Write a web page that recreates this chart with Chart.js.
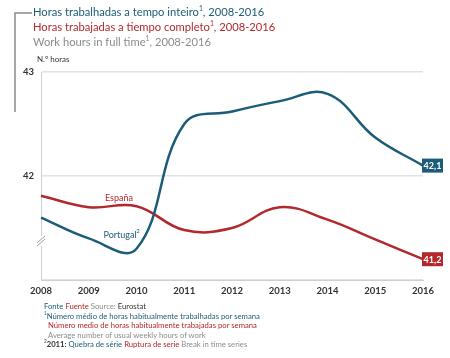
<!DOCTYPE html>
<html><head><meta charset="utf-8">
<script src="https://cdn.jsdelivr.net/npm/chart.js@4"></script>
<style>
html,body{margin:0;padding:0;background:#fff;}
#wrap{position:relative;width:450px;height:358px;font-family:Lato,"Open Sans",sans-serif;}
canvas{position:absolute;left:0;top:0;}
.t{position:absolute;white-space:nowrap;line-height:1;}
.b{color:#1b5c78}.r{color:#b3282d}.g{color:#8c8c8c}.k{color:#333}
sup{font-size:60%;vertical-align:super;line-height:0}
</style></head><body>
<div id="wrap">
<canvas id="c" width="450" height="358"></canvas>
<div class="t b" style="left:33px;top:6px;font-size:11.2px;">Horas trabalhadas a tempo inteiro<sup>1</sup>, 2008-2016</div>
<div class="t r" style="left:33px;top:21px;font-size:11.2px;">Horas trabajadas a tiempo completo<sup>1</sup>, 2008-2016</div>
<div class="t g" style="left:33px;top:36px;font-size:11.2px;">Work hours in full time<sup>1</sup>, 2008-2016</div>
<div class="t k" style="left:37px;top:55px;font-size:8px;">N.º horas</div>
<div class="t" style="left:44px;top:303px;font-size:7.7px;"><span class="b">Fonte</span> <span class="r">Fuente</span> <span class="g">Source:</span> <span class="k">Eurostat</span></div>
<div class="t b" style="left:44px;top:312.5px;font-size:7.7px;"><sup>1</sup>Número médio de horas habitualmente trabalhadas por semana</div>
<div class="t r" style="left:48px;top:322px;font-size:7.7px;">Número medio de horas habitualmente trabajadas por semana</div>
<div class="t g" style="left:48px;top:331.5px;font-size:7.7px;">Average number of usual weekly hours of work</div>
<div class="t" style="left:44px;top:340.5px;font-size:7.7px;"><span class="k"><sup>2</sup><b>2011:</b></span> <span class="b">Quebra de série</span> <span class="r">Ruptura de serie</span> <span class="g">Break in time series</span></div>
</div>
<script>
const years = ['2008','2009','2010','2011','2012','2013','2014','2015','2016'];
const portugal = [41.60, 41.40, 41.30, 42.50, 42.62, 42.72, 42.79, 42.37, 42.10];
const espana = [41.81, 41.70, 41.71, 41.48, 41.50, 41.70, 41.58, 41.39, 41.20];
const yTicks = [41, 42, 43];
const endLabels = ['42,1', '41,2'];

const BLUE = '#1b5c78', RED = '#b3282d';

const deco = {
  id: 'deco',
  afterDraw(chart) {
    const ctx = chart.ctx;
    ctx.save();
    // bracket
    ctx.strokeStyle = '#8a8a8a'; ctx.lineWidth = 1.5;
    ctx.beginPath(); ctx.moveTo(32, 13); ctx.lineTo(15, 13); ctx.lineTo(15, 112); ctx.stroke();
    // axis break marks
    ctx.strokeStyle = '#ffffff'; ctx.lineWidth = 4;
    ctx.beginPath(); ctx.moveTo(41, 236); ctx.lineTo(41, 246); ctx.stroke();
    ctx.strokeStyle = '#a0a0a0'; ctx.lineWidth = 1;
    ctx.beginPath(); ctx.moveTo(37, 243); ctx.lineTo(45, 236); ctx.moveTo(37, 246); ctx.lineTo(45, 239); ctx.stroke();
    // series labels
    ctx.font = '9px Lato, sans-serif'; ctx.textAlign = 'center'; ctx.textBaseline = 'middle';
    ctx.fillStyle = RED; ctx.fillText('España', 119, 198);
    ctx.fillStyle = BLUE; ctx.fillText('Portugal', 120, 235);
    ctx.font = '6px Lato, sans-serif'; ctx.fillText('2', 138, 231);
    // end labels
    chart.data.datasets.forEach((ds, i) => {
      const meta = chart.getDatasetMeta(i);
      const p = meta.data[meta.data.length - 1];
      const w = 21, h = 14;
      ctx.fillStyle = ds.borderColor;
      ctx.fillRect(p.x - 1, p.y - h / 2, w, h);
      ctx.fillStyle = '#fff';
      ctx.font = 'bold 9px Lato, sans-serif';
      ctx.fillText(endLabels[i], p.x - 1 + w / 2, p.y + 0.5);
    });
    ctx.restore();
  }
};

new Chart(document.getElementById('c'), {
  type: 'line',
  data: {
    labels: years,
    datasets: [
      { label: 'Portugal', data: portugal, borderColor: BLUE, borderWidth: 2.5, pointRadius: 0, tension: 0.4, fill: false },
      { label: 'España', data: espana, borderColor: RED, borderWidth: 2.5, pointRadius: 0, tension: 0.4, fill: false }
    ]
  },
  options: {
    responsive: false, animation: false, events: [],
    layout: { padding: { left: 0, right: 27, top: 72, bottom: 58 } },
    plugins: { legend: { display: false }, tooltip: { enabled: false } },
    scales: {
      x: {
        offset: false,
        grid: { display: false, drawTicks: false },
        border: { color: '#cfcfcf', width: 1 },
        ticks: { color: '#333', font: { family: 'Lato', size: 9.5, weight: 'bold' }, padding: 5, maxRotation: 0, autoSkip: false },
        afterFit: s => { s.height = 20; }
      },
      y: {
        min: yTicks[0], max: yTicks[yTicks.length - 1],
        afterBuildTicks: s => { s.ticks = yTicks.map(v => ({ value: v })); },
        grid: { color: '#e2e2e2', lineWidth: 1.5, drawTicks: false },
        border: { color: '#cfcfcf', width: 1 },
        ticks: { color: '#333', font: { family: 'Lato', size: 9.5, weight: 'bold' }, padding: 7, callback: v => v === 41 ? '' : String(v) },
        afterFit: s => { s.width = 41; }
      }
    }
  },
  plugins: [deco]
});
</script>
</body></html>
